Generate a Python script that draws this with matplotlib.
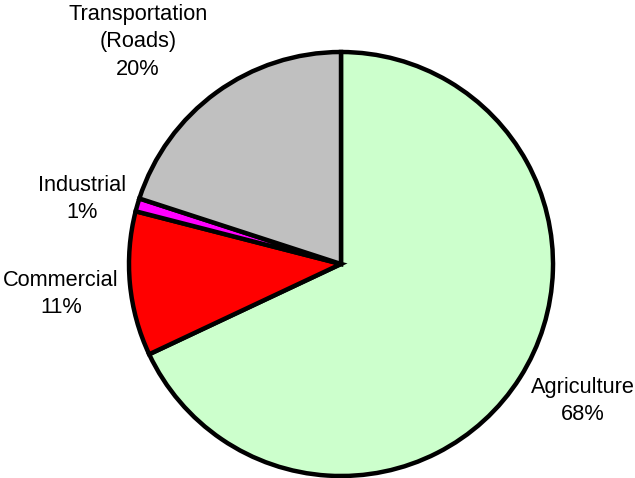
import matplotlib
matplotlib.use("Agg")
import matplotlib.pyplot as plt

categories = ["Agriculture", "Commercial", "Industrial", "Transportation\n(Roads)"]
values = [68, 11, 1, 20]
colors = ["#CCFFCC", "#FF0000", "#FF00FF", "#C0C0C0"]
# label anchor positions (data units, pie radius = 1)
label_pos = [(1.1415, -0.6462), (-1.3208, -0.1415), (-1.2217, 0.3066), (-0.9575, 1.0472)]

plt.rcParams['font.family'] = ['Liberation Sans', 'DejaVu Sans']

fig = plt.figure(figsize=(6.35, 4.78), dpi=100)
ax = fig.add_axes([0, 0, 1, 1])
ax.pie(values, colors=colors, startangle=90, counterclock=False, radius=1.0,
       wedgeprops=dict(edgecolor="black", linewidth=3.2, joinstyle="miter"))

total = sum(values)
for name, v, (x, y) in zip(categories, values, label_pos):
    ax.text(x, y, f"{name}\n{round(100 * v / total)}%", ha="center", va="center",
            multialignment="center", fontsize=15.7, linespacing=1.4)

scale = 212.0
cx, cy = 341.0, 264.0
ax.set_xlim(-cx / scale, (635 - cx) / scale)
ax.set_ylim(-(478 - cy) / scale, cy / scale)
ax.set_aspect("auto")
ax.axis("off")
fig.savefig("out.png", dpi=100, facecolor="white")
